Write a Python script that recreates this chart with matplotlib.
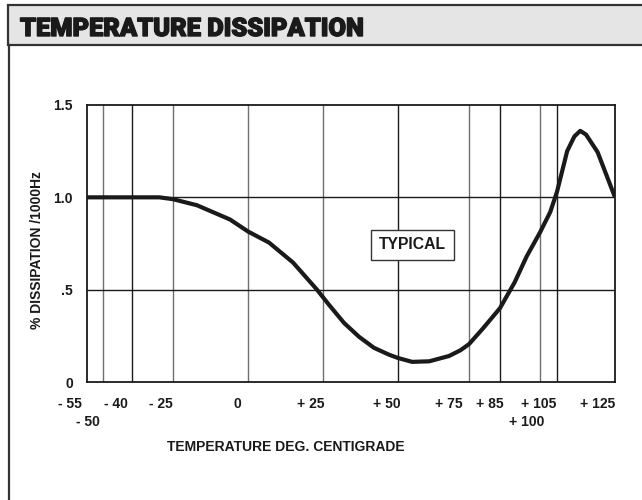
import numpy as np
import matplotlib
matplotlib.use("Agg")
import matplotlib.pyplot as plt
from matplotlib.patches import Rectangle
from matplotlib.lines import Line2D
import matplotlib.transforms as mtransforms
import matplotlib.patheffects as pe

plt.rcParams['font.family'] = ['Liberation Sans', 'DejaVu Sans']

# ---- data ----
temps = [-55, -50, -40, -30, -25, -17, -6, 0, 7, 15, 23, 27, 32, 37, 42, 47, 50, 55, 61,
         68, 72, 75, 79.5, 85, 90.5, 95, 100, 103, 105, 108.5, 111, 113, 115, 119, 125]
dissipation = [1.0, 1.0, 1.0, 1.0, 0.99, 0.957, 0.88, 0.815, 0.755, 0.647, 0.5, 0.418,
               0.32, 0.245, 0.185, 0.148, 0.13, 0.109, 0.112, 0.141, 0.172, 0.205, 0.29,
               0.40, 0.54, 0.68, 0.81, 0.92, 1.03, 1.25, 1.33, 1.36, 1.34, 1.245, 1.0]

grid_temps = [-55, -50, -40, -25, 0, 25, 50, 75, 85, 100, 105, 125]
grid_pos = [0, 16, 45, 86, 161, 236, 311, 382, 413, 453, 470, 528]  # chart scale breakpoints
grid_dark = [False, False, True, False, False, False, True, False, True, False, True, False]

xtick_temps = [-55, -50, -40, -25, 0, 25, 50, 75, 85, 100, 105, 125]
xtick_labels = ['- 55', '- 50', '- 40', '- 25', '0', '+ 25', '+ 50', '+ 75', '+ 85',
                '+ 100', '+ 105', '+ 125']
xtick_row = [0, 1, 0, 0, 0, 0, 0, 0, 0, 1, 0, 0]
xtick_nudge_px = [-17, -15, -16, -12, -11, -12, -11, -20, -10, -13, -18, -17]

ytick_vals = [0, 0.5, 1.0, 1.5]
ytick_labels = ['0', '.5', '1.0', '1.5']

# ---- figure ----
W, H, DPI = 642, 500, 100
fig = plt.figure(figsize=(W / DPI, H / DPI), dpi=DPI)

def fx(px):
    return px / W

def fy(py):
    return 1 - py / H

# title bar
fig.patches.append(Rectangle((fx(8), fy(45)), 1.1, fy(5) - fy(45), transform=fig.transFigure,
                             facecolor='#e5e5e5', edgecolor='#333333', linewidth=1.6,
                             zorder=0))
fig.lines.append(Line2D([fx(9), fx(9)], [fy(45), 0], transform=fig.transFigure,
                        color='#333333', linewidth=1.6))
fig.text(fx(20), fy(29), 'TEMPERATURE DISSIPATION', fontsize=18.3, fontweight=900,
         family=['Roboto', 'Liberation Sans', 'DejaVu Sans'],
         color='#1a1a1a', ha='left', va='center',
         path_effects=[pe.withStroke(linewidth=1.0, foreground='#1a1a1a')])

ax = fig.add_axes([fx(87), fy(382), fx(615) - fx(87), fy(105) - fy(382)])

def fwd(x):
    return np.interp(x, grid_temps, grid_pos)

def inv(p):
    return np.interp(p, grid_pos, grid_temps)

ax.set_xscale('function', functions=(fwd, inv))
ax.set_xlim(-55, 125)
ax.set_ylim(0, 1.5)

for t, dark in zip(grid_temps[1:-1], grid_dark[1:-1]):
    ax.axvline(t, color='#1a1a1a' if dark else '#707070', linewidth=1.0, zorder=1)
for v in ytick_vals[1:-1]:
    ax.axhline(v, color='#1a1a1a', linewidth=1.0, zorder=1)

ax.plot(temps, dissipation, color='#1a1a1a', linewidth=3.0, solid_joinstyle='round',
        solid_capstyle='butt', zorder=3)

for s in ax.spines.values():
    s.set_color('#1a1a1a')
    s.set_linewidth(1.3)

ax.set_xticks([])
ax.set_yticks(ytick_vals)
ax.set_yticklabels(ytick_labels, fontsize=10, fontweight='bold', color='#1a1a1a')
ax.tick_params(axis='y', length=0, pad=10)

trans = mtransforms.blended_transform_factory(ax.transData, ax.transAxes)
for t, lab, row, nud in zip(xtick_temps, xtick_labels, xtick_row, xtick_nudge_px):
    off = mtransforms.ScaledTranslation(nud / DPI, 0, fig.dpi_scale_trans)
    ypix = 404 if row == 0 else 422
    ax.text(t, (382 - ypix) / (382 - 105), lab, transform=trans + off, ha='center',
            va='center', fontsize=10, fontweight='bold', color='#1a1a1a')

fig.text(fx(286), fy(447), 'TEMPERATURE DEG. CENTIGRADE', ha='center', va='center',
         fontsize=10, fontweight='bold', color='#1a1a1a')
fig.text(fx(37), fy(250), '% DISSIPATION /1000Hz', ha='center', va='center',
         rotation=90, fontsize=10, fontweight='bold', color='#1a1a1a')

ax.text(0.617, 0.495, 'TYPICAL', transform=ax.transAxes, ha='center', va='center',
        fontsize=11.3, fontweight='bold', color='#1a1a1a', zorder=4,
        bbox=dict(boxstyle='square,pad=0.5', facecolor='white', edgecolor='#333333',
                  linewidth=1.0))

fig.savefig('out.png', dpi=DPI)
